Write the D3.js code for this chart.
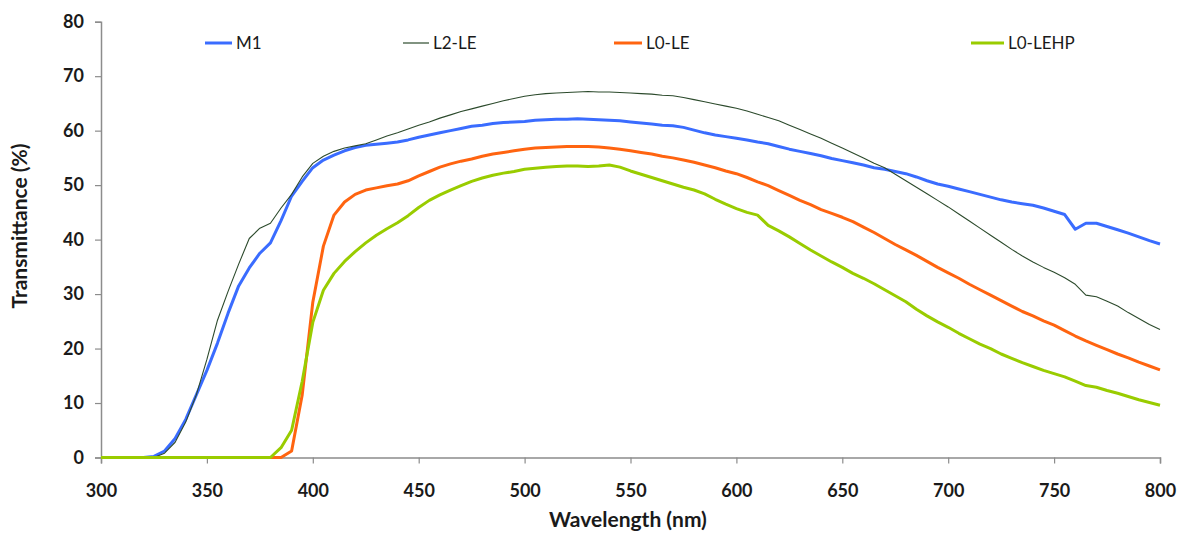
<!DOCTYPE html>
<html>
<head>
<meta charset="utf-8">
<script src="https://cdn.jsdelivr.net/npm/d3@7"></script>
<style>
  html, body { margin: 0; padding: 0; background: #fff; }
  svg { display: block; }
</style>
</head>
<body>
<svg id="chart" width="1185" height="533"></svg>
<script>
// Wavelength grid (nm), 5 nm steps
const wavelengths = d3.range(300, 801, 5);

// Transmittance (%) per sample, one value per wavelength
const m1 = [
  0, 0, 0, 0, 0, 0.2, 1.2, 3.5, 7.0, 11.5,
  16.0, 21.0, 26.5, 31.5, 34.8, 37.5, 39.4, 43.5, 48.0, 50.7,
  53.2, 54.6, 55.5, 56.3, 56.9, 57.3, 57.5, 57.7, 57.9, 58.3,
  58.8, 59.2, 59.6, 60.0, 60.4, 60.8, 61.0, 61.3, 61.5, 61.6,
  61.7, 61.9, 62.0, 62.1, 62.1, 62.2, 62.1, 62.0, 61.9, 61.8,
  61.6, 61.4, 61.2, 61.0, 60.9, 60.6, 60.1, 59.6, 59.2, 58.9,
  58.6, 58.3, 57.9, 57.6, 57.1, 56.6, 56.2, 55.8, 55.4, 54.9,
  54.5, 54.1, 53.7, 53.2, 52.9, 52.5, 52.1, 51.5, 50.8, 50.2,
  49.8, 49.3, 48.8, 48.3, 47.8, 47.3, 46.9, 46.6, 46.3, 45.8,
  45.2, 44.6, 41.9, 43.0, 43.0, 42.4, 41.8, 41.2, 40.5, 39.8,
  39.2
];

const l2le = [
  0, 0, 0, 0, 0, 0, 0.8, 2.8, 6.5, 11.5,
  18.0, 25.2, 30.5, 35.5, 40.2, 42.1, 43.0, 45.8, 48.3, 51.5,
  54.0, 55.3, 56.2, 56.8, 57.2, 57.6, 58.3, 59.0, 59.6, 60.3,
  61.0, 61.6, 62.3, 62.9, 63.5, 64.0, 64.5, 65.0, 65.5, 65.9,
  66.3, 66.6, 66.8, 66.9, 67.0, 67.1, 67.2, 67.1, 67.1, 67.0,
  66.9, 66.8, 66.7, 66.5, 66.4, 66.1, 65.7, 65.3, 64.9, 64.5,
  64.1, 63.6, 63.0, 62.4, 61.8, 61.0, 60.2, 59.4, 58.6, 57.7,
  56.8, 55.9, 55.0, 54.0, 53.2, 52.0, 50.8, 49.6, 48.4, 47.2,
  46.0, 44.7, 43.4, 42.1, 40.8, 39.5, 38.2, 37.0, 35.9, 34.9,
  34.0, 33.0, 31.8, 29.8, 29.5, 28.7, 27.8, 26.6, 25.5, 24.4,
  23.5
];

const l0le = [
  0, 0, 0, 0, 0, 0, 0, 0, 0, 0,
  0, 0, 0, 0, 0, 0, 0, 0, 1.2, 11.5,
  28.5, 38.8, 44.5, 46.9, 48.3, 49.1, 49.5, 49.9, 50.2, 50.8,
  51.7, 52.5, 53.3, 53.9, 54.4, 54.8, 55.3, 55.7, 56.0, 56.3,
  56.6, 56.8, 56.9, 57.0, 57.1, 57.1, 57.1, 57.0, 56.8, 56.6,
  56.3, 56.0, 55.7, 55.3, 55.0, 54.6, 54.2, 53.7, 53.2, 52.6,
  52.1, 51.4, 50.6, 49.9, 49.0, 48.1, 47.2, 46.4, 45.5, 44.8,
  44.1, 43.3, 42.3, 41.3, 40.2, 39.1, 38.1, 37.1, 36.0, 34.9,
  33.9, 32.9, 31.8, 30.8, 29.8, 28.8, 27.8, 26.8, 26.0, 25.1,
  24.3, 23.3, 22.3, 21.4, 20.6, 19.8, 19.0, 18.3, 17.5, 16.8,
  16.1
];

const l0lehp = [
  0, 0, 0, 0, 0, 0, 0, 0, 0, 0,
  0, 0, 0, 0, 0, 0, 0, 1.8, 5.0, 14.0,
  24.8, 30.7, 33.8, 36.0, 37.8, 39.4, 40.8, 42.0, 43.1, 44.4,
  45.9, 47.2, 48.2, 49.1, 49.9, 50.7, 51.3, 51.8, 52.2, 52.5,
  52.9, 53.1, 53.3, 53.4, 53.5, 53.5, 53.4, 53.5, 53.7, 53.3,
  52.6, 52.0, 51.4, 50.8, 50.2, 49.6, 49.1, 48.4, 47.4, 46.5,
  45.7, 45.0, 44.5, 42.6, 41.6, 40.5, 39.3, 38.1, 37.0, 35.9,
  34.9, 33.8, 32.9, 31.9, 30.8, 29.7, 28.6, 27.2, 26.0, 24.9,
  23.9, 22.8, 21.8, 20.8, 20.0, 19.0, 18.2, 17.4, 16.7, 16.0,
  15.4, 14.8, 14.0, 13.2, 12.9, 12.3, 11.8, 11.2, 10.6, 10.1,
  9.6
];

const seriesNames = ["M1", "L2-LE", "L0-LE", "L0-LEHP"];
const seriesValues = [m1, l2le, l0le, l0lehp];
const seriesColors = ["#3a6cff", "#2c4a2c", "#ff6410", "#99cc00"];
const seriesWidths = [3, 1.1, 3, 3];

const xTicks = [300, 350, 400, 450, 500, 550, 600, 650, 700, 750, 800];
const yTicks = [0, 10, 20, 30, 40, 50, 60, 70, 80];

// Legend entry x positions (swatch start)
const legendX = [205, 403, 614, 971];
const legendSwatch = [27, 26, 28, 33];

const svg = d3.select("#chart");
const plot = { left: 101, right: 1160, top: 21.7, bottom: 457.5 };

const x = d3.scaleLinear().domain([300, 800]).range([plot.left, plot.right]);
const y = d3.scaleLinear().domain([0, 80]).range([plot.bottom, plot.top]);

const axisColor = "#8c8c8c";
const labelFont = "Lato, 'Open Sans', sans-serif";

// X axis
const gx = svg.append("g")
  .attr("transform", `translate(0,${plot.bottom})`)
  .call(d3.axisBottom(x).tickValues(xTicks).tickSize(6).tickPadding(21).tickFormat(d3.format("d")));
gx.select(".domain").attr("stroke", axisColor).attr("stroke-width", 1.5);
gx.selectAll(".tick line").attr("stroke", axisColor).attr("stroke-width", 1.2);
gx.selectAll(".tick text")
  .attr("fill", "#1a1a1a").style("font-family", labelFont)
  .style("font-size", "18px").style("font-weight", "bold");

// Y axis
const gy = svg.append("g")
  .attr("transform", `translate(${plot.left},0)`)
  .call(d3.axisLeft(y).tickValues(yTicks).tickSize(6).tickPadding(11).tickFormat(d3.format("d")));
gy.select(".domain").attr("stroke", axisColor).attr("stroke-width", 1.5);
gy.selectAll(".tick line").attr("stroke", axisColor).attr("stroke-width", 1.2);
gy.selectAll(".tick text")
  .attr("fill", "#1a1a1a").style("font-family", labelFont)
  .style("font-size", "18px").style("font-weight", "bold");

// Axis titles
svg.append("text")
  .attr("x", 628)
  .attr("y", 527)
  .attr("text-anchor", "middle")
  .style("font-family", labelFont).style("font-size", "21px").style("font-weight", "bold")
  .attr("fill", "#1a1a1a")
  .text("Wavelength (nm)");

svg.append("text")
  .attr("transform", "translate(27,226) rotate(-90)")
  .attr("text-anchor", "middle")
  .style("font-family", labelFont).style("font-size", "21px").style("font-weight", "bold")
  .attr("fill", "#1a1a1a")
  .text("Transmittance (%)");

// Spectra
const line = d3.line()
  .x((d, i) => x(wavelengths[i]))
  .y(d => y(d));

seriesValues.forEach((vals, k) => {
  svg.append("path")
    .datum(vals)
    .attr("fill", "none")
    .attr("stroke", seriesColors[k])
    .attr("stroke-width", seriesWidths[k])
    .attr("stroke-linejoin", "round")
    .attr("d", line);
});

// Legend
const legendY = 43;
seriesNames.forEach((name, k) => {
  const g = svg.append("g");
  g.append("line")
    .attr("x1", legendX[k]).attr("x2", legendX[k] + legendSwatch[k])
    .attr("y1", legendY).attr("y2", legendY)
    .attr("stroke", seriesColors[k])
    .attr("stroke-width", k === 1 ? 1.2 : 3);
  g.append("text")
    .attr("x", legendX[k] + legendSwatch[k] + 4)
    .attr("y", legendY + 6)
    .style("font-family", labelFont).style("font-size", "17px")
    .attr("fill", "#1a1a1a")
    .text(name);
});
</script>
</body>
</html>
